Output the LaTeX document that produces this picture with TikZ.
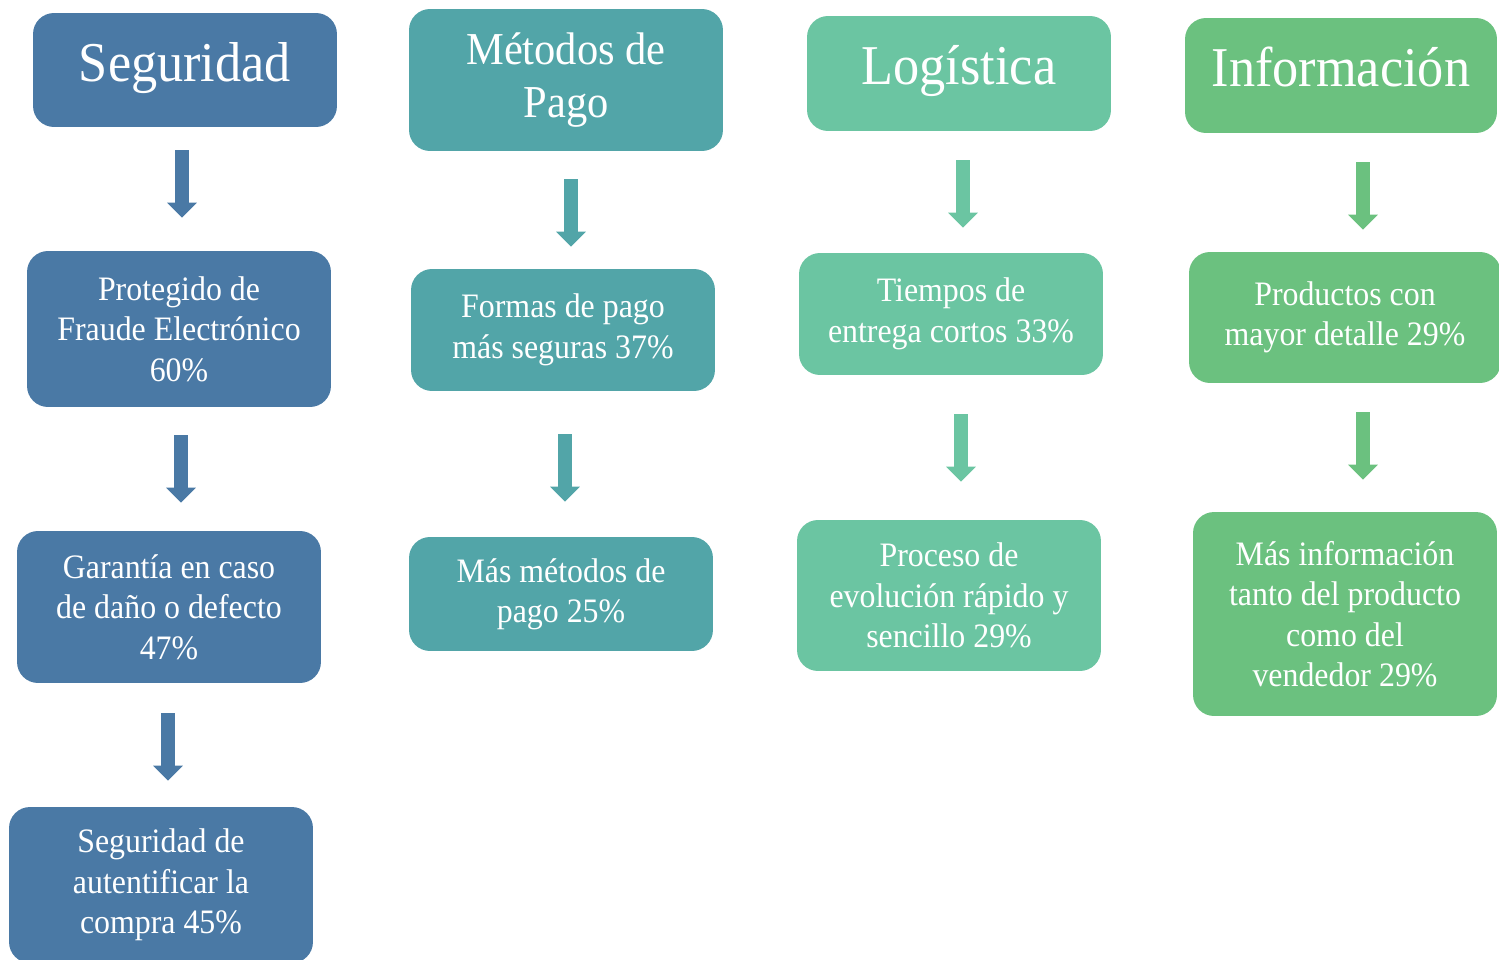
\documentclass[tikz,border=0pt]{standalone}
\usepackage{fontspec}
\setmainfont[FakeStretch=0.93]{Liberation Serif}
\usepackage{tikz}
\usetikzlibrary{arrows.meta, positioning}
\definecolor{segB}{HTML}{4A79A5}
\definecolor{pagoT}{HTML}{52A5A8}
\definecolor{logG}{HTML}{6BC5A2}
\definecolor{infoG}{HTML}{6BC17F}

\tikzset{
  box/.style = {rounded corners = 0.42cm, inner sep = 0pt, text = white, align = center,
    minimum width = 6.08cm, font = \fontsize{19.5}{23}\selectfont},
  headBox/.style = {box, font = \fontsize{32}{36}\selectfont},
  headLine/.style = {text height = 21pt, text depth = 8pt},
  arrowDown/.style = {line width = 0.28cm, -{Triangle[width = 0.58cm, length = 0.3cm]}}
}

\begin{document}
\begin{tikzpicture}[x = 0.02cm, y = -0.02cm]
  \useasboundingbox (0, 0) rectangle (1499, 960);

  % ------------------------
  % headers
  % ------------------------

  \node[headBox, headLine, fill = segB, minimum height = 2.28cm] (H1) at (185, 70) {Seguridad};
  \node[headBox, fill = pagoT, minimum width = 6.28cm, minimum height = 2.84cm,
    font = \fontsize{26}{30}\selectfont] (H2) at (566, 80) {Métodos de\\Pago};
  \node[headBox, headLine, fill = logG, minimum height = 2.3cm] (H3) at (959, 73.5) {Logística};
  \node[headBox, headLine, fill = infoG, minimum width = 6.24cm, minimum height = 2.3cm] (H4) at (1341, 75.5) {Información};

  % ------------------------
  % items
  % ------------------------

  \node[box, fill = segB, minimum height = 3.12cm] (B11) at (179, 329) {Protegido de\\Fraude Electrónico\\60\%};
  \node[box, fill = segB, minimum height = 3.04cm] (B12) at (169, 607) {Garantía en caso\\de daño o defecto\\47\%};
  \node[box, fill = segB, minimum height = 3.12cm] (B13) at (161, 885) {Seguridad de\\autentificar la\\compra 45\%};

  \node[box, fill = pagoT, minimum height = 2.44cm] (B21) at (563, 330) {Formas de pago\\más seguras 37\%};
  \node[box, fill = pagoT, minimum height = 2.28cm] (B22) at (561, 594) {Más métodos de\\pago 25\%};

  \node[box, fill = logG, minimum height = 2.44cm] (B31) at (951, 314) {Tiempos de\\entrega cortos 33\%};
  \node[box, fill = logG, minimum height = 3.02cm] (B32) at (949, 595.5) {Proceso de\\evolución rápido y\\sencillo 29\%};

  \node[box, fill = infoG, minimum width = 6.24cm, minimum height = 2.62cm] (B41) at (1345, 317.5) {Productos con\\mayor detalle 29\%};
  \node[box, fill = infoG, minimum height = 4.08cm] (B42) at (1345, 614) {Más información\\tanto del producto\\como del\\vendedor 29\%};

  % ------------------------
  % arrows
  % ------------------------

  \coordinate (a11) at (182, 0);
  \coordinate (a12) at (181, 0);
  \coordinate (a13) at (168, 0);
  \coordinate (a21) at (571, 0);
  \coordinate (a22) at (565, 0);
  \coordinate (a31) at (963, 0);
  \coordinate (a32) at (961, 0);
  \coordinate (a41) at (1363, 0);
  \coordinate (a42) at (1363, 0);

  \draw[arrowDown, segB, shorten <= 0.46cm, shorten >= 0.66cm] (H1.south -| a11) -- (B11.north -| a11);
  \draw[arrowDown, segB, shorten <= 0.56cm, shorten >= 0.56cm] (B11.south -| a12) -- (B12.north -| a12);
  \draw[arrowDown, segB, shorten <= 0.6cm, shorten >= 0.52cm] (B12.south -| a13) -- (B13.north -| a13);

  \draw[arrowDown, pagoT, shorten <= 0.56cm, shorten >= 0.44cm] (H2.south -| a21) -- (B21.north -| a21);
  \draw[arrowDown, pagoT, shorten <= 0.86cm, shorten >= 0.7cm] (B21.south -| a22) -- (B22.north -| a22);

  \draw[arrowDown, logG, shorten <= 0.58cm, shorten >= 0.5cm] (H3.south -| a31) -- (B31.north -| a31);
  \draw[arrowDown, logG, shorten <= 0.78cm, shorten >= 0.76cm] (B31.south -| a32) -- (B32.north -| a32);

  \draw[arrowDown, infoG, shorten <= 0.58cm, shorten >= 0.44cm] (H4.south -| a41) -- (B41.north -| a41);
  \draw[arrowDown, infoG, shorten <= 0.58cm, shorten >= 0.64cm] (B41.south -| a42) -- (B42.north -| a42);
\end{tikzpicture}
\end{document}
